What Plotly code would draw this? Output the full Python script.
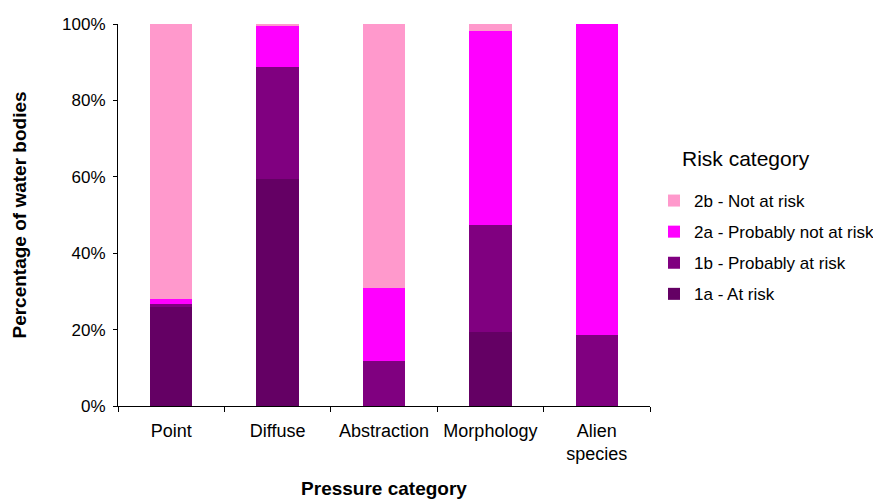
import plotly.graph_objects as go

categories = ["Point", "Diffuse", "Abstraction", "Morphology", "Alien<br>species"]
s1a = [25.8, 59.4, 0.0, 19.4, 0.0]
s1b = [1.0, 29.3, 11.8, 28.0, 18.6]
s2a = [1.2, 10.8, 19.2, 50.8, 81.4]
s2b = [72.0, 0.5, 69.0, 1.8, 0.0]
series_names = ["1a - At risk", "1b - Probably at risk", "2a - Probably not at risk", "2b - Not at risk"]
colors = ["#640064", "#800080", "#FF00FF", "#FF99CC"]
y_ticks = [0, 20, 40, 60, 80, 100]
y_ticklabels = ["0%", "20%", "40%", "60%", "80%", "100%"]

font = "Liberation Sans, Arial, sans-serif"
W, H = 873, 491
OFF = 8  # page body margin
L, R, T, B = 118 - OFF, 650 - OFF, 24 - OFF, 406 - OFF

fig = go.Figure()
for i, (name, vals, col) in enumerate(zip(series_names, [s1a, s1b, s2a, s2b], colors)):
    fig.add_trace(go.Bar(x=categories, y=vals, name=name, marker_color=col,
                         marker_line_width=0, legendgroup=name,
                         legendrank=10 - i))

fig.update_layout(
    barmode="stack",
    bargap=0.6,
    width=W, height=H,
    margin=dict(l=L, r=W - R, t=T, b=H - B, autoexpand=False),
    paper_bgcolor="white", plot_bgcolor="white",
    font=dict(family=font, size=17, color="black"),
    legend=dict(xref="container", yref="container",
                x=(654 - OFF) / W, y=(H - (183 - OFF)) / H, xanchor="left", yanchor="top",
                traceorder="grouped", tracegroupgap=6,
                font=dict(size=17), itemclick=False, bgcolor="rgba(0,0,0,0)"),
    annotations=[dict(text="Risk category", xref="paper", yref="paper",
                      x=(680 - OFF - L) / (R - L), xanchor="left",
                      y=(B - (158 - OFF)) / (B - T), yanchor="middle",
                      showarrow=False, font=dict(size=21))],
)
fig.update_xaxes(
    automargin=False,
    showline=True, linecolor="black", linewidth=1,
    ticks="outside", tickson="boundaries", ticklen=5, tickcolor="black",
    tickfont=dict(size=18), ticklabelstandoff=8,
    title=dict(text="<b>Pressure category</b>", font=dict(size=19), standoff=19),
)
fig.update_yaxes(
    automargin=False,
    range=[0, 100], tickvals=y_ticks, ticktext=y_ticklabels,
    showline=True, linecolor="black", linewidth=1, showgrid=False,
    ticks="outside", ticklen=4, tickcolor="black", tickfont=dict(size=17),
    ticklabelstandoff=4,
    title=dict(text="<b>Percentage of water bodies</b>", font=dict(size=19), standoff=30),
    zeroline=False,
)
fig.write_html("out.html")
